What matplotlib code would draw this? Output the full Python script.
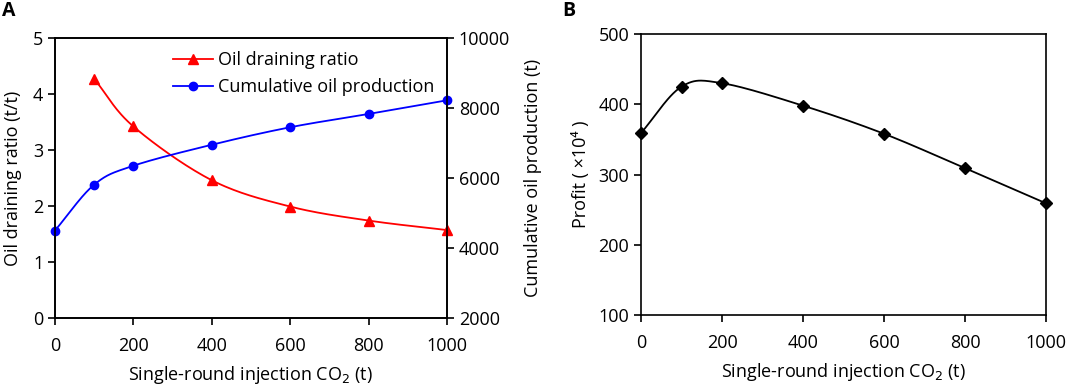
import numpy as np
import matplotlib
matplotlib.use("Agg")
import matplotlib.pyplot as plt

plt.rcParams['font.family'] = ['Open Sans', 'DejaVu Sans']
plt.rcParams['font.size'] = 13

# data
co2_ratio = [100, 200, 400, 600, 800, 1000]
drain_ratio = [4.27, 3.42, 2.46, 1.99, 1.74, 1.57]

co2_cum = [0, 100, 200, 400, 600, 800, 1000]
cum_oil = [4500, 5810, 6350, 6950, 7450, 7830, 8220]

co2_profit = [0, 100, 200, 400, 600, 800, 1000]
profit = [359, 425, 430, 398, 358, 309, 259]


def smooth(x, y, n=30):
    # catmull-rom style smoothing, like excel's smoothed lines
    x = np.asarray(x, float)
    y = np.asarray(y, float)
    px = np.concatenate([[2 * x[0] - x[1]], x, [2 * x[-1] - x[-2]]])
    py = np.concatenate([[2 * y[0] - y[1]], y, [2 * y[-1] - y[-2]]])
    xs, ys = [], []
    t = np.linspace(0, 1, n)
    for i in range(1, len(px) - 2):
        p0, p1, p2, p3 = px[i - 1], px[i], px[i + 1], px[i + 2]
        q0, q1, q2, q3 = py[i - 1], py[i], py[i + 1], py[i + 2]
        c1x, c1y = p1 + (p2 - p0) / 6, q1 + (q2 - q0) / 6
        c2x, c2y = p2 - (p3 - p1) / 6, q2 - (q3 - q1) / 6
        bx = (1-t)**3*p1 + 3*(1-t)**2*t*c1x + 3*(1-t)*t**2*c2x + t**3*p2
        by = (1-t)**3*q1 + 3*(1-t)**2*t*c1y + 3*(1-t)*t**2*c2y + t**3*q2
        xs.append(bx)
        ys.append(by)
    return np.concatenate(xs), np.concatenate(ys)


fig = plt.figure(figsize=(10.72, 3.89), dpi=100)
ax1 = fig.add_axes([55/1072, 1 - 318/389, 392/1072, 280/389])
ax2 = ax1.twinx()
ax3 = fig.add_axes([641/1072, 1 - 315/389, 405/1072, 281/389])

# panel A
sx, sy = smooth(co2_ratio, drain_ratio)
ax1.plot(sx, sy, color='red', lw=1.3, zorder=3)
ax1.plot(co2_ratio, drain_ratio, '^', color='red', ms=7, zorder=4, clip_on=False)
sx, sy = smooth(co2_cum, cum_oil)
ax2.plot(sx, sy, color='blue', lw=1.3)
ax2.plot(co2_cum, cum_oil, 'o', color='blue', ms=6, clip_on=False)

ax1.set_xlim(0, 1000)
ax1.set_ylim(0, 5)
ax2.set_ylim(2000, 10000)
ax1.set_xticks([0, 200, 400, 600, 800, 1000])
ax1.set_yticks([0, 1, 2, 3, 4, 5])
ax2.set_yticks([2000, 4000, 6000, 8000, 10000])
ax1.set_ylabel('Oil draining ratio (t/t)', labelpad=8)
ax2.set_ylabel('Cumulative oil production (t)', labelpad=10)
ax1.set_xlabel('Single-round injection CO$_2$ (t)', labelpad=6)

h1, = ax1.plot([], [], '-^', color='red', ms=7, lw=1.3)
h2, = ax1.plot([], [], '-o', color='blue', ms=6, lw=1.3)
ax1.legend([h1, h2], ['Oil draining ratio', 'Cumulative oil production'],
           loc='upper left', bbox_to_anchor=(0.26, 1.01), frameon=False,
           handlelength=2.2, handletextpad=0.3, labelspacing=0.5, fontsize=13)

# panel B
sx, sy = smooth(co2_profit, profit)
ax3.plot(sx, sy, color='black', lw=1.3)
ax3.plot(co2_profit, profit, 'D', color='black', ms=6, clip_on=False)
ax3.set_xlim(0, 1000)
ax3.set_ylim(100, 500)
ax3.set_xticks([0, 200, 400, 600, 800, 1000])
ax3.set_yticks([100, 200, 300, 400, 500])
ax3.set_ylabel('Profit ( \u00d710\u2074 )', labelpad=6)
ax3.set_xlabel('Single-round injection CO$_2$ (t)', labelpad=6)

for ax in [ax1, ax2, ax3]:
    ax.tick_params(direction='out', length=5, width=1.2, labelsize=13)
    ax.tick_params(axis='x', pad=9)
    for s in ax.spines.values():
        s.set_linewidth(1.2)

fig.text(2/1072, 1 - 16/389, 'A', fontsize=14, fontweight='bold')
fig.text(562/1072, 1 - 16/389, 'B', fontsize=14, fontweight='bold')

fig.savefig('out.png', dpi=100)
